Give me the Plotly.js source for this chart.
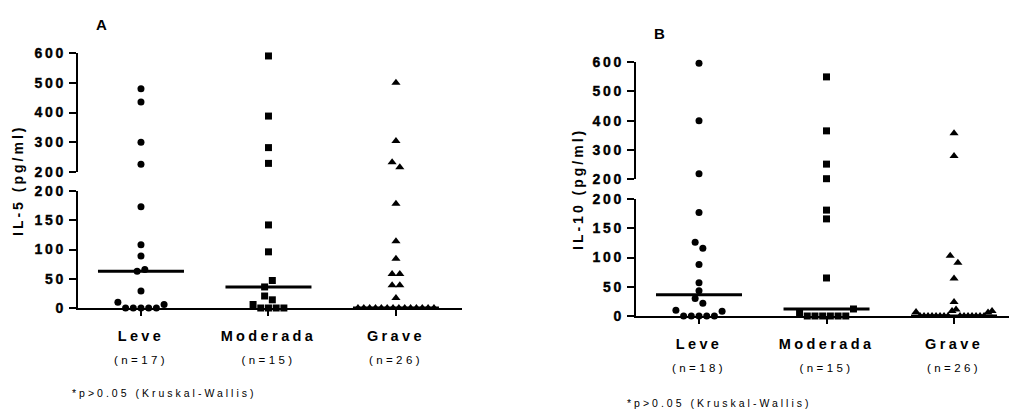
<!DOCTYPE html>
<html>
<head>
<meta charset="utf-8">
<script src="https://cdn.plot.ly/plotly-3.0.1.min.js"></script>
<style>
  html, body { margin: 0; padding: 0; background: #fff; }
  #chart { width: 1009px; height: 410px; }
  g.ytick text, g.y2tick text, g.y3tick text, g.y4tick text {
    letter-spacing: 2.8px; font-weight: bold !important; stroke: #000; stroke-width: 0.4px; }
  g.xtick text, g.x2tick text { letter-spacing: 3.4px; }
  .annotation-text { letter-spacing: 3px; }
</style>
</head>
<body>
<div id="chart"></div>
<script>
// ---------------- data ----------------
const categories = ["Leve", "Moderada", "Grave"];
const nLabelsA = ["(n=17)", "(n=15)", "(n=26)"];
const nLabelsB = ["(n=18)", "(n=15)", "(n=26)"];

// Panel A : IL-5 (pg/ml)
const leveIL5     = [480, 435, 300, 226, 173, 108, 89, 63, 66, 29, 10, 0, 0, 0, 0, 0, 6];
const moderadaIL5 = [590, 388, 282, 229, 142, 96, 36, 47, 20.5, 14, 6, 0, 0, 0, 0];
const graveIL5    = [500, 304, 233, 216, 178, 114, 84, 58, 58, 39, 39, 17,
                     0, 0, 0, 0, 0, 0, 0, 0, 0, 0, 0, 0, 0, 0];

// Panel B : IL-10 (pg/ml)
const leveIL10     = [597, 400, 218, 177, 126, 116, 88, 57, 43, 30, 22, 10, 0, 0, 0, 0, 0, 8];
const moderadaIL10 = [550, 365, 251, 201, 181, 166, 65, 6, 0, 0, 0, 0, 0, 0, 12];
const graveIL10    = [357, 279, 103, 91, 64, 24, 7, 0, 0, 0, 0, 0, 0, 0, 0, 8.5, 11,
                      0, 0, 0, 0, 0, 0, 0, 6, 8.5];

const lowerTicks = [0, 50, 100, 150, 200];
const upperTicks = [200, 300, 400, 500, 600];
const breakValue = 200;
const yTitleA = "IL-5 (pg/ml)";
const yTitleB = "IL-10 (pg/ml)";
const footnote = "*p>0.05 (Kruskal-Wallis)";

// ---------------- layout geometry ----------------
const W = 1009, H = 410;
const FONT = "Arial, 'Liberation Sans', Helvetica, sans-serif";
const symbols = ["circle", "square", "triangle-up"];
const sizes = [7, 7, 8];

const geo = {
  A: { xdom: [78 / W, 462 / W], xr: [-0.494, 2.518],
       low: [(H - 308) / H, (H - 191) / H], up: [(H - 172) / H, (H - 53) / H] },
  B: { xdom: [636 / W, 1], xr: [-0.494, 2.431],
       low: [(H - 316) / H, (H - 199) / H], up: [(H - 179) / H, (H - 62.3) / H] }
};

function median(a) {
  const s = a.slice().sort((p, q) => p - q);
  const m = Math.floor(s.length / 2);
  return s.length % 2 ? s[m] : (s[m - 1] + s[m]) / 2;
}

// row-based scatter spreading (like a column dot plot)
function spread(values, ppuLow, ppuUp) {
  const TOL = 7.2, DOT = 7.7, SPAN = 76;
  const idx = values.map((v, i) => i).sort((a, b) => values[a] - values[b] || a - b);
  const off = new Array(values.length).fill(0);
  const rows = [];
  let cur = null;
  idx.forEach(i => {
    const v = values[i];
    const seg = v > breakValue ? 1 : 0;
    const ppu = seg ? ppuUp : ppuLow;
    if (cur && cur.seg === seg && (v - cur.start) * ppu <= TOL) cur.m.push(i);
    else { cur = { start: v, seg: seg, m: [i] }; rows.push(cur); }
  });
  rows.forEach(r => {
    r.m.sort((a, b) => a - b);
    const n = r.m.length;
    const sp = n > 1 ? Math.min(DOT, SPAN / (n - 1)) : 0;
    r.m.forEach((i, k) => { off[i] = (k - (n - 1) / 2) * sp; });
  });
  return off;
}

const traces = [];
function addPanel(g, groups, xa, yLow, yUp) {
  const pxPerCat = (g.xdom[1] - g.xdom[0]) * W / (g.xr[1] - g.xr[0]);
  const ppuLow = (g.low[1] - g.low[0]) * H / (lowerTicks[lowerTicks.length - 1] - lowerTicks[0]);
  const ppuUp = (g.up[1] - g.up[0]) * H / (upperTicks[upperTicks.length - 1] - upperTicks[0]);
  groups.forEach((vals, ci) => {
    const off = spread(vals, ppuLow, ppuUp);
    const lx = [], ly = [], ux = [], uy = [];
    vals.forEach((v, i) => {
      const x = ci + off[i] / pxPerCat;
      if (v > breakValue) { ux.push(x); uy.push(v); } else { lx.push(x); ly.push(v); }
    });
    const mk = { symbol: symbols[ci], size: sizes[ci], color: "#000", line: { width: 0 } };
    traces.push({ type: "scatter", mode: "markers", x: lx, y: ly, xaxis: xa, yaxis: yLow,
                  marker: mk, cliponaxis: false, hoverinfo: "y" });
    traces.push({ type: "scatter", mode: "markers", x: ux, y: uy, xaxis: xa, yaxis: yUp,
                  marker: mk, cliponaxis: false, hoverinfo: "y" });
    const med = median(vals);
    const half = 43 / pxPerCat;
    traces.push({ type: "scatter", mode: "lines", x: [ci - half, ci + half], y: [med, med],
                  xaxis: xa, yaxis: yLow, line: { color: "#000", width: 3 },
                  cliponaxis: false, hoverinfo: "skip" });
  });
}

addPanel(geo.A, [leveIL5, moderadaIL5, graveIL5], "x", "y", "y2");
addPanel(geo.B, [leveIL10, moderadaIL10, graveIL10], "x2", "y3", "y4");

function catText(nl) {
  return categories.map((c, i) =>
    '<span style="font-size:14.5px;font-weight:bold">' + c + '</span><br>' +
    '<span style="font-size:11.5px">' + nl[i] + '</span>');
}
function boldTicks(vals) { return vals.map(v => '<span style="font-weight:bold">' + v + '</span>'); }

const yCommon = {
  showline: true, linecolor: "#000", linewidth: 2,
  ticks: "outside", ticklen: 7, tickwidth: 2, tickcolor: "#000",
  showgrid: false, zeroline: false, fixedrange: true,
  tickfont: { family: FONT, size: 14, color: "#000", weight: 700 }
};
const xCommon = {
  showline: true, linecolor: "#000", linewidth: 2,
  ticks: "outside", ticklen: 6, tickwidth: 2, tickcolor: "#000",
  showgrid: false, zeroline: false, fixedrange: true,
  tickvals: [0, 1, 2], ticklabelstandoff: 3,
  tickfont: { family: FONT, size: 18, color: "#000" }
};

const layout = {
  width: W, height: H,
  margin: { l: 0, r: 0, t: 0, b: 0 },
  paper_bgcolor: "#fff", plot_bgcolor: "rgba(0,0,0,0)",
  showlegend: false,
  xaxis: Object.assign({}, xCommon, { domain: geo.A.xdom, range: geo.A.xr, anchor: "y",
                                       ticktext: catText(nLabelsA) }),
  yaxis: Object.assign({}, yCommon, { domain: geo.A.low, range: [0, 200], anchor: "x",
                                       tickvals: lowerTicks, ticktext: boldTicks(lowerTicks) }),
  yaxis2: Object.assign({}, yCommon, { domain: geo.A.up, range: [200, 600], anchor: "x",
                                        tickvals: upperTicks, ticktext: boldTicks(upperTicks) }),
  xaxis2: Object.assign({}, xCommon, { domain: geo.B.xdom, range: geo.B.xr, anchor: "y3",
                                        ticktext: catText(nLabelsB) }),
  yaxis3: Object.assign({}, yCommon, { domain: geo.B.low, range: [0, 200], anchor: "x2",
                                        tickvals: lowerTicks, ticktext: boldTicks(lowerTicks) }),
  yaxis4: Object.assign({}, yCommon, { domain: geo.B.up, range: [200, 600], anchor: "x2",
                                        tickvals: upperTicks, ticktext: boldTicks(upperTicks) }),
  annotations: [
    { text: "<b>A</b>", x: 102.5 / W, y: (H - 24.5) / H, xref: "paper", yref: "paper",
      xanchor: "center", yanchor: "middle", showarrow: false,
      font: { family: FONT, size: 15, color: "#000" } },
    { text: "<b>B</b>", x: 661 / W, y: (H - 33.3) / H, xref: "paper", yref: "paper",
      xanchor: "center", yanchor: "middle", showarrow: false,
      font: { family: FONT, size: 15, color: "#000" } },
    { text: '<span style="font-weight:bold">' + yTitleA + '</span>', x: 18 / W, y: (H - 181) / H,
      xref: "paper", yref: "paper", xanchor: "center", yanchor: "middle", textangle: -90,
      showarrow: false, font: { family: FONT, size: 14, color: "#000" } },
    { text: '<span style="font-weight:bold">' + yTitleB + '</span>', x: 578 / W, y: (H - 189) / H,
      xref: "paper", yref: "paper", xanchor: "center", yanchor: "middle", textangle: -90,
      showarrow: false, font: { family: FONT, size: 14, color: "#000" } },
    { text: footnote, x: 70 / W, y: (H - 393) / H, xref: "paper", yref: "paper",
      xanchor: "left", yanchor: "middle", showarrow: false,
      font: { family: FONT, size: 10.5, color: "#000" } },
    { text: footnote, x: 625 / W, y: (H - 403) / H, xref: "paper", yref: "paper",
      xanchor: "left", yanchor: "middle", showarrow: false,
      font: { family: FONT, size: 10.5, color: "#000" } }
  ]
};

Plotly.newPlot("chart", traces, layout, { displayModeBar: false, staticPlot: true });
</script>
</body>
</html>
